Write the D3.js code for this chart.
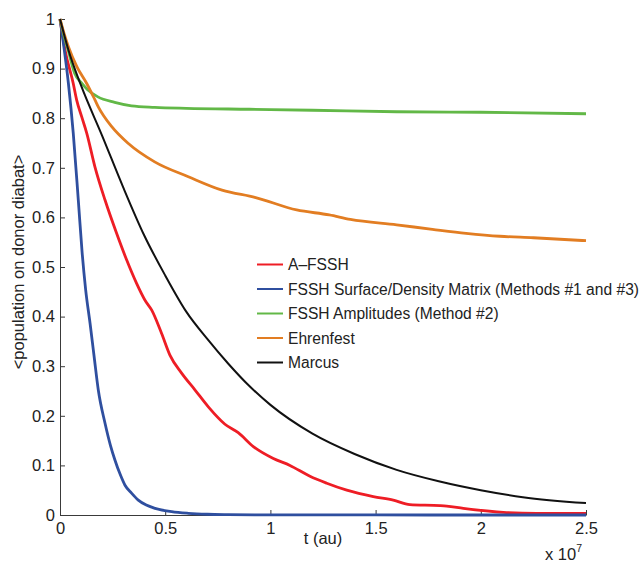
<!DOCTYPE html>
<html>
<head>
<meta charset="utf-8">
<script src="https://cdn.jsdelivr.net/npm/d3@7"></script>
<style>
  body { margin: 0; background: #fff; }
  svg { font-family: Helvetica, Arial, "Liberation Sans", sans-serif; }
  .axis path, .axis line { stroke: #3a3a3a; }
  .axis text { fill: #222; font-size: 16.5px; }
</style>
</head>
<body>
<div id="chart"></div>
<script>
// time in units of 1e7 au (axis shows "x 10^7")
const aFsshT = [0, 0.024, 0.063, 0.079, 0.103, 0.127, 0.166, 0.214, 0.269, 0.317, 0.364, 0.404, 0.436, 0.483, 0.523, 0.578, 0.642, 0.705, 0.784, 0.847, 0.919, 1.014, 1.093, 1.188, 1.268, 1.363, 1.489, 1.584, 1.663, 1.806, 1.838, 1.917, 2.107, 2.265, 2.5];
const aFsshP = [1, 0.9375, 0.87, 0.837, 0.803, 0.77, 0.702, 0.635, 0.568, 0.514, 0.467, 0.433, 0.413, 0.366, 0.322, 0.286, 0.252, 0.218, 0.183, 0.166, 0.138, 0.114, 0.100, 0.078, 0.064, 0.050, 0.037, 0.030, 0.021, 0.019, 0.018, 0.0135, 0.0054, 0.0034, 0.0034];

const fsshT = [0, 0.01, 0.04, 0.063, 0.087, 0.105, 0.122, 0.143, 0.162, 0.182, 0.214, 0.24, 0.261, 0.285, 0.309, 0.34, 0.372, 0.41, 0.452, 0.531, 0.61, 0.7, 0.8, 1.0, 1.5, 2.0, 2.5];
const fsshP = [1, 0.97, 0.87, 0.77, 0.635, 0.53, 0.454, 0.386, 0.32, 0.252, 0.185, 0.14, 0.111, 0.083, 0.060, 0.044, 0.030, 0.020, 0.0135, 0.0067, 0.0034, 0.0015, 0.0008, 0.0003, 0.0001, 0, 0];

const ampT = [0, 0.02, 0.04, 0.07, 0.1, 0.13, 0.18, 0.26, 0.34, 0.45, 0.6, 0.9, 1.2, 1.6, 2.0, 2.5];
const ampP = [1, 0.965, 0.935, 0.89, 0.872, 0.858, 0.843, 0.832, 0.825, 0.822, 0.820, 0.818, 0.816, 0.813, 0.812, 0.809];

const ehrT = [0, 0.02, 0.04, 0.08, 0.127, 0.166, 0.182, 0.246, 0.325, 0.45, 0.61, 0.77, 0.93, 1.125, 1.28, 1.38, 1.6, 1.77, 1.93, 2.09, 2.25, 2.5];
const ehrP = [1, 0.97, 0.944, 0.904, 0.87, 0.837, 0.823, 0.783, 0.749, 0.712, 0.682, 0.655, 0.64, 0.615, 0.605, 0.596, 0.585, 0.576, 0.568, 0.562, 0.559, 0.553];

const marcusT = [0, 0.04, 0.1, 0.2, 0.3, 0.4, 0.5, 0.6, 0.7, 0.8, 0.9, 1.0, 1.2, 1.4, 1.6, 1.8, 2.0, 2.2, 2.5];
const marcusP = [1, 0.9375, 0.866, 0.765, 0.661, 0.564, 0.483, 0.41, 0.355, 0.305, 0.26, 0.222, 0.164, 0.123, 0.091, 0.068, 0.05, 0.036, 0.024];

const seriesNames = ["A\u2013FSSH", "FSSH Surface/Density Matrix (Methods #1 and #3)", "FSSH Amplitudes (Method #2)", "Ehrenfest", "Marcus"];
const seriesColors = ["#ee1d25", "#2f4f9f", "#62b847", "#e27d22", "#111111"];
const seriesT = [aFsshT, fsshT, ampT, ehrT, marcusT];
const seriesP = [aFsshP, fsshP, ampP, ehrP, marcusP];

const xTicks = [0, 0.5, 1, 1.5, 2, 2.5];
const yTicks = [0, 0.1, 0.2, 0.3, 0.4, 0.5, 0.6, 0.7, 0.8, 0.9, 1];

const width = 643, height = 563;
const margin = {left: 60, top: 19, right: 57, bottom: 48};
const chartWidth = width - margin.left - margin.right;
const chartHeight = height - margin.top - margin.bottom;

const svg = d3.select("#chart").append("svg")
    .attr("width", width)
    .attr("height", height);

const chart = svg.append("g")
    .attr("transform", `translate(${margin.left}, ${margin.top})`);

const xScale = d3.scaleLinear().domain([0, 2.5]).range([0, chartWidth]);
const yScale = d3.scaleLinear().domain([0, 1]).range([chartHeight, 0]);

const xAxis = d3.axisBottom(xScale)
    .tickValues(xTicks)
    .tickFormat(d3.format("~g"))
    .tickSize(-5)
    .tickSizeOuter(0)
    .tickPadding(7);
chart.append("g")
    .attr("class", "axis")
    .attr("transform", `translate(0, ${chartHeight})`)
    .call(xAxis);

const yAxis = d3.axisLeft(yScale)
    .tickValues(yTicks)
    .tickFormat(d3.format("~g"))
    .tickSize(-5)
    .tickSizeOuter(0)
    .tickPadding(5);
chart.append("g")
    .attr("class", "axis")
    .call(yAxis);

const line = d3.line()
    .x(d => xScale(d[0]))
    .y(d => yScale(d[1]))
    .curve(d3.curveMonotoneX);

seriesNames.forEach((name, i) => {
    const pts = d3.zip(seriesT[i], seriesP[i]);
    chart.append("path")
        .datum(pts)
        .attr("fill", "none")
        .attr("stroke", seriesColors[i])
        .attr("stroke-width", i === 4 ? 2 : 2.8)
        .attr("stroke-linejoin", "round")
        .attr("d", line);
});

// axis labels
svg.append("text")
    .attr("x", margin.left + chartWidth / 2)
    .attr("y", 544)
    .attr("text-anchor", "middle")
    .attr("font-size", 16.5)
    .attr("fill", "#222")
    .text("t (au)");

svg.append("text")
    .attr("transform", `translate(24, 262) rotate(-90)`)
    .attr("text-anchor", "middle")
    .attr("font-size", 16.5)
    .attr("fill", "#222")
    .text("<population on donor diabat>");

const expLabel = svg.append("text")
    .attr("x", 545)
    .attr("y", 560)
    .attr("font-size", 16.5)
    .attr("fill", "#222");
expLabel.append("tspan").text("x 10");
expLabel.append("tspan").attr("dy", -8).attr("font-size", 10.5).text("7");

// legend
const legend = svg.append("g").attr("transform", "translate(257, 264.5)");
seriesNames.forEach((name, i) => {
    const row = legend.append("g").attr("transform", `translate(0, ${i * 24.5})`);
    row.append("line")
        .attr("x1", 0).attr("x2", 26)
        .attr("stroke", seriesColors[i])
        .attr("stroke-width", 2);
    row.append("text")
        .attr("x", 31)
        .attr("y", 5.5)
        .attr("font-size", 15.6)
        .attr("fill", "#222")
        .text(name);
});
</script>
</body>
</html>
